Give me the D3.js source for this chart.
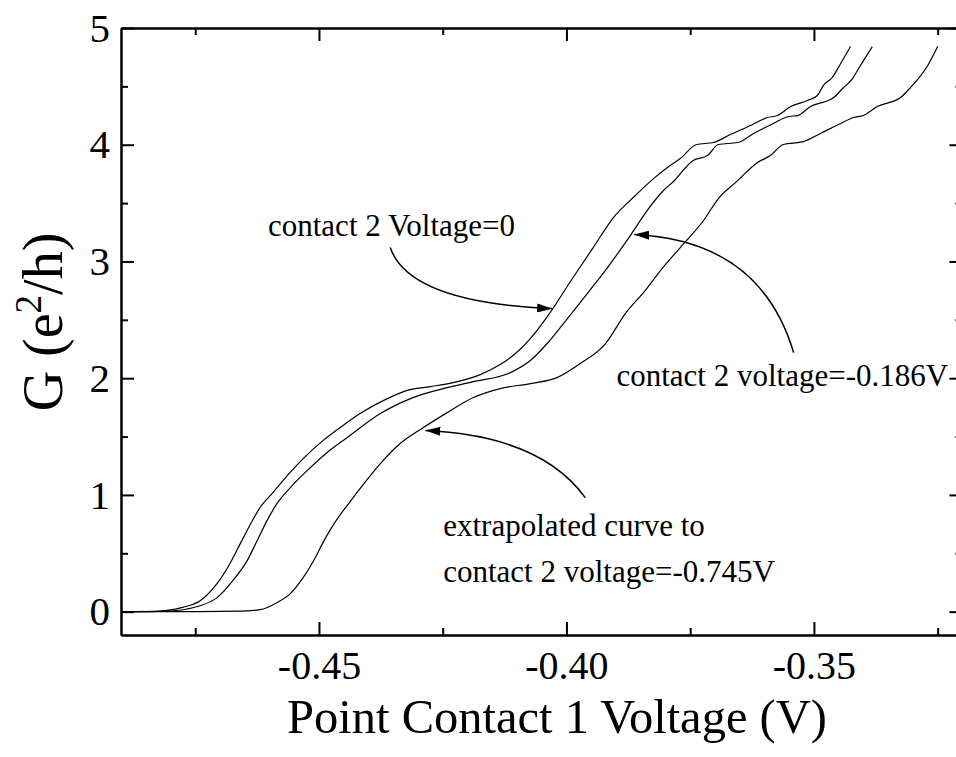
<!DOCTYPE html>
<html lang="en">
	<head>
		<meta charset="UTF-8" />
		<title>Point contact conductance</title>
		<style>
			body { margin: 0; background: #fff; }
			svg text { font-family: 'Liberation Serif', 'Times New Roman', serif; fill: #000; }
		</style>
	</head>
	<body>
		<svg id="svg" width="956" height="757"></svg>
		<script src="https://d3js.org/d3.v7.min.js"></script>
		<script>
			// Data: [point contact 1 voltage (V), G (e^2/h)]
			const curveZero = [
				[-0.49, 0], [-0.4841, 0.0], [-0.4811, 0.01], [-0.4775, 0.037], [-0.474, 0.094],
				[-0.4706, 0.24], [-0.468, 0.411], [-0.4659, 0.583], [-0.4639, 0.745], [-0.4619, 0.892],
				[-0.4593, 1.02], [-0.4564, 1.165], [-0.4532, 1.311], [-0.4492, 1.465], [-0.4443, 1.62],
				[-0.4417, 1.697], [-0.4362, 1.825], [-0.4316, 1.902], [-0.4275, 1.928], [-0.4229, 1.962],
				[-0.4174, 2.031], [-0.4134, 2.117], [-0.4103, 2.211], [-0.4073, 2.339], [-0.4033, 2.562],
				[-0.3992, 2.828], [-0.3946, 3.119], [-0.3905, 3.376], [-0.3865, 3.548], [-0.3824, 3.71],
				[-0.3796, 3.805], [-0.377, 3.882], [-0.3737, 4.002], [-0.3703, 4.019], [-0.3669, 4.087],
				[-0.3628, 4.165], [-0.3594, 4.233], [-0.3574, 4.25], [-0.3547, 4.327], [-0.3513, 4.379],
				[-0.3493, 4.422], [-0.3481, 4.507], [-0.3463, 4.576], [-0.3446, 4.696], [-0.3426, 4.841]
			];
			const curve186 = [
				[-0.49, 0], [-0.4811, 0.004], [-0.474, 0.051], [-0.4706, 0.12], [-0.4674, 0.266],
				[-0.4645, 0.437], [-0.4625, 0.608], [-0.4605, 0.78], [-0.4585, 0.925], [-0.4558, 1.063],
				[-0.4524, 1.208], [-0.4484, 1.362], [-0.4443, 1.491], [-0.4376, 1.697], [-0.431, 1.834],
				[-0.4241, 1.919], [-0.4188, 1.971], [-0.4113, 2.048], [-0.4073, 2.151], [-0.4039, 2.297],
				[-0.4006, 2.468], [-0.3958, 2.725], [-0.3917, 2.948], [-0.3871, 3.222], [-0.3837, 3.436],
				[-0.3804, 3.608], [-0.3784, 3.685], [-0.3744, 3.865], [-0.3715, 3.907], [-0.3693, 4.002],
				[-0.3654, 4.019], [-0.3622, 4.096], [-0.3582, 4.182], [-0.3551, 4.242], [-0.3533, 4.25],
				[-0.3507, 4.327], [-0.346, 4.404], [-0.3442, 4.482], [-0.3422, 4.567], [-0.3406, 4.679],
				[-0.3382, 4.841]
			];
			const curve745 = [
				[-0.49, 0], [-0.474, 0], [-0.4659, 0.004], [-0.4619, 0.017], [-0.4585, 0.077],
				[-0.4558, 0.154], [-0.4532, 0.291], [-0.4512, 0.428], [-0.4494, 0.574], [-0.4477, 0.703],
				[-0.4457, 0.831], [-0.4437, 0.943], [-0.4417, 1.054], [-0.4376, 1.268], [-0.4336, 1.44],
				[-0.4289, 1.577], [-0.4241, 1.705], [-0.4188, 1.834], [-0.4134, 1.911], [-0.4073, 1.954],
				[-0.4019, 2.005], [-0.3972, 2.125], [-0.3921, 2.297], [-0.3881, 2.554], [-0.3841, 2.751],
				[-0.381, 2.922], [-0.377, 3.119], [-0.3723, 3.351], [-0.3693, 3.539], [-0.3654, 3.693],
				[-0.3614, 3.848], [-0.3588, 3.907], [-0.3562, 4.002], [-0.3521, 4.027], [-0.3487, 4.096],
				[-0.3446, 4.182], [-0.342, 4.233], [-0.34, 4.25], [-0.3372, 4.327], [-0.3325, 4.404],
				[-0.3305, 4.49], [-0.3289, 4.567], [-0.327, 4.679], [-0.325, 4.841]
			];

			const xMajorTicks = [-0.45, -0.40, -0.35];
			const xMinorTicks = [-0.475, -0.425, -0.375, -0.325];
			const yMajorTicks = [0, 1, 2, 3, 4, 5];
			const yMinorTicks = [0.5, 1.5, 2.5, 3.5, 4.5];

			// annotation texts, anchored in data units
			const labels = [
				{ text: 'contact 2 Voltage=0', v: -0.4603, g: 3.222 },
				{ text: 'contact 2 voltage=-0.186V', v: -0.3899, g: 1.937 },
				{ text: 'extrapolated curve to', v: -0.4249, g: 0.651 },
				{ text: 'contact 2 voltage=-0.745V', v: -0.4249, g: 0.257 }
			];
			// arrows: start, bend, tip
			const arrows = [
				[[-0.4356, 3.119], [-0.4318, 2.648], [-0.4029, 2.596]],
				[[-0.3541, 2.219], [-0.3608, 3.179], [-0.3863, 3.231]],
				[[-0.3962, 0.977], [-0.4053, 1.508], [-0.4285, 1.551]]
			];

			const mLeft = 121, mRight = 962.4, mTop = 28, mBottom = 635;

			const x = d3.scaleLinear().domain([-0.49, -0.32]).range([mLeft, mRight]);
			const y = d3.scaleLinear().domain([-0.2, 5]).range([mBottom, mTop]);

			const svg = d3.select('#svg');

			svg.append('defs')
				.append('marker')
				.attr('id', 'head')
				.attr('viewBox', '0 0 10 10')
				.attr('preserveAspectRatio', 'none')
				.attr('refX', 10)
				.attr('refY', 5)
				.attr('markerUnits', 'userSpaceOnUse')
				.attr('markerWidth', 15)
				.attr('markerHeight', 9)
				.attr('orient', 'auto')
				.append('path')
				.attr('d', 'M0,0L10,5L0,10Z')
				.attr('fill', '#000');

			// curves
			const line = d3.line()
				.x((d) => x(d[0]))
				.y((d) => y(d[1]))
				.curve(d3.curveMonotoneX);

			svg.append('g')
				.selectAll('path')
				.data([curveZero, curve186, curve745])
				.join('path')
				.attr('d', line)
				.attr('fill', 'none')
				.attr('stroke', '#000')
				.attr('stroke-width', 1.2);

			// axes, ticks pointing inward
			function addAxis(axis, tx, ty) {
				const g = svg.append('g')
					.attr('transform', `translate(${tx}, ${ty})`)
					.call(axis);
				g.selectAll('line').attr('stroke', '#000').attr('stroke-width', 2);
				g.select('.domain').attr('stroke', '#000').attr('stroke-width', 2);
				g.attr('font-family', null);
				return g;
			}

			const xLab = addAxis(d3.axisBottom(x).tickValues(xMajorTicks).tickSize(-13).tickSizeOuter(0)
				.tickPadding(16).tickFormat((d) => d.toFixed(2)), 0, mBottom);
			xLab.selectAll('text').attr('font-size', 40).attr('dy', '0.71em');
			addAxis(d3.axisBottom(x).tickValues(xMinorTicks).tickSize(-7).tickSizeOuter(0).tickFormat(''), 0, mBottom);
			addAxis(d3.axisTop(x).tickValues(xMajorTicks).tickSize(-13).tickSizeOuter(0).tickFormat(''), 0, mTop);
			addAxis(d3.axisTop(x).tickValues(xMinorTicks).tickSize(-7).tickSizeOuter(0).tickFormat(''), 0, mTop);

			const yLab = addAxis(d3.axisLeft(y).tickValues(yMajorTicks).tickSize(-13).tickSizeOuter(0)
				.tickPadding(11).tickFormat(d3.format('d')), mLeft, 0);
			yLab.selectAll('text').attr('font-size', 41);
			addAxis(d3.axisLeft(y).tickValues(yMinorTicks).tickSize(-7).tickSizeOuter(0).tickFormat(''), mLeft, 0);
			addAxis(d3.axisRight(y).tickValues(yMajorTicks).tickSize(-13).tickSizeOuter(0).tickFormat(''), mRight, 0);
			addAxis(d3.axisRight(y).tickValues(yMinorTicks).tickSize(-7).tickSizeOuter(0).tickFormat(''), mRight, 0);

			// axis titles
			svg.append('text')
				.attr('x', 557)
				.attr('y', 733)
				.attr('text-anchor', 'middle')
				.attr('font-size', 48.5)
				.text('Point Contact 1 Voltage (V)');

			const yt = svg.append('text')
				.attr('transform', 'translate(62, 322) rotate(-90)')
				.attr('text-anchor', 'middle')
				.attr('font-size', 56);
			yt.append('tspan').text('G (e');
			yt.append('tspan').attr('font-size', 37).attr('dy', -21).text('2');
			yt.append('tspan').attr('dy', 21).text('/h)');

			// annotations
			svg.append('g')
				.selectAll('text')
				.data(labels)
				.join('text')
				.attr('x', (d) => x(d.v))
				.attr('y', (d) => y(d.g))
				.attr('font-size', 31)
				.text((d) => d.text);

			const arrowPath = (p) => {
				const path = d3.path();
				path.moveTo(x(p[0][0]), y(p[0][1]));
				path.quadraticCurveTo(x(p[1][0]), y(p[1][1]), x(p[2][0]), y(p[2][1]));
				return path.toString();
			};
			svg.append('g')
				.selectAll('path')
				.data(arrows)
				.join('path')
				.attr('d', arrowPath)
				.attr('fill', 'none')
				.attr('stroke', '#000')
				.attr('stroke-width', 1.5)
				.attr('marker-end', 'url(#head)');
		</script>
	</body>
</html>
